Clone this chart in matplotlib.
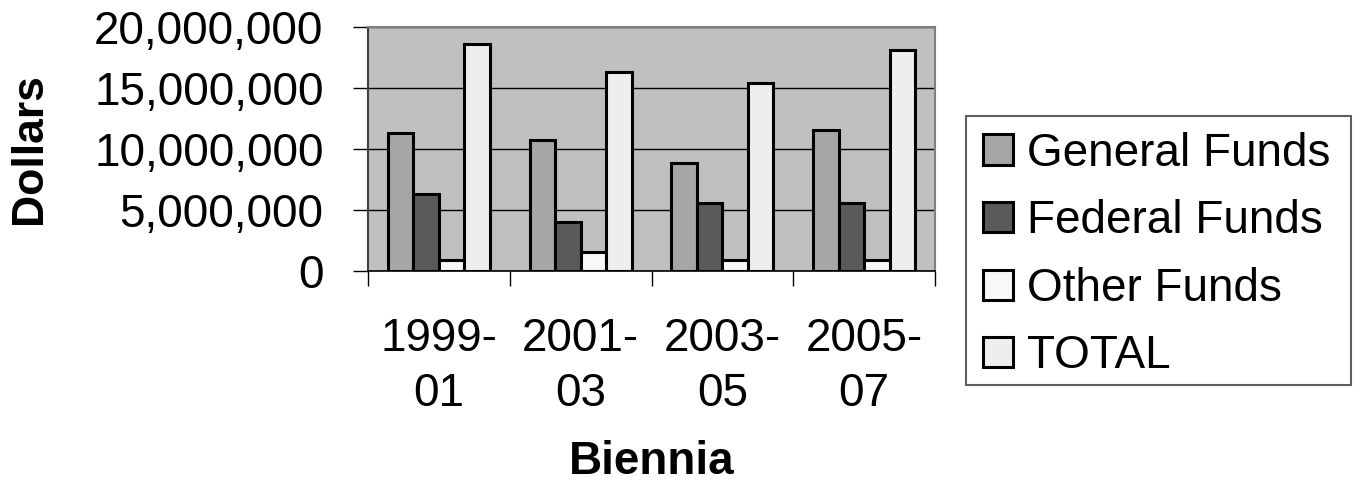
import matplotlib
matplotlib.use("Agg")
import matplotlib.pyplot as plt
import numpy as np
from matplotlib.ticker import FuncFormatter, FixedLocator
from matplotlib.patches import Rectangle

plt.rcParams['font.family'] = ['Liberation Sans', 'DejaVu Sans']

categories = ["1999-\n01", "2001-\n03", "2003-\n05", "2005-\n07"]
series_names = ["General Funds", "Federal Funds", "Other Funds", "TOTAL"]
general = [11300000, 10700000, 8850000, 11550000]
federal = [6300000, 4050000, 5600000, 5600000]
other = [900000, 1550000, 900000, 900000]
total = [18600000, 16350000, 15450000, 18150000]
y_ticks = [0, 5000000, 10000000, 15000000, 20000000]

colors = ["#a6a6a6", "#5a5a5a", "#f8f8f8", "#eeeeee"]

W, H = 1354, 487
FS = 33
fig = plt.figure(figsize=(W / 100, H / 100), dpi=100)
ax = fig.add_axes([368 / W, (H - 271) / H, (935 - 368) / W, (271 - 27) / H])
ax.set_facecolor("#c0c0c0")

x = np.arange(len(categories))
bw = 0.18
data = [general, federal, other, total]
for i, (vals, name, c) in enumerate(zip(data, series_names, colors)):
    ax.bar(x + (i - 1.5) * bw, vals, width=bw, color=c, edgecolor="black",
           linewidth=2.2, label=name, zorder=3)

ax.set_xlim(-0.5, len(categories) - 0.5)
ax.set_ylim(0, 20000000)
ax.yaxis.set_major_locator(FixedLocator(y_ticks))
ax.yaxis.set_major_formatter(FuncFormatter(lambda v, p: f"{int(v):,}"))
ax.grid(axis="y", color="black", linewidth=1.0, zorder=1)

ax.set_xticks(x)
ax.set_xticklabels(categories, linespacing=1.33)
ax.set_xticks(np.arange(-0.5, len(categories), 1.0), minor=True)
ax.tick_params(axis="x", which="major", length=0, pad=33, labelsize=FS)
ax.tick_params(axis="x", which="minor", length=11, width=1, color="black")
ax.tick_params(axis="y", length=11, width=1, color="black", labelsize=FS, pad=21)

for s in ["top", "right"]:
    ax.spines[s].set_color("#808080")
    ax.spines[s].set_linewidth(1.5)
ax.spines["left"].set_color("#404040")
ax.spines["left"].set_linewidth(1.5)
ax.spines["bottom"].set_color("black")
ax.spines["bottom"].set_linewidth(1.2)

fig.text(30 / W, 1 - 149 / H, "Dollars", rotation=90, fontsize=32,
         fontweight="bold", ha="center", va="center")
fig.text(652 / W, 1 - 462 / H, "Biennia", fontsize=FS, fontweight="bold",
         ha="center", va="center")

# legend frame
fig.patches.append(Rectangle((966 / W, 1 - 385 / H), (1351 - 966) / W, (385 - 116) / H,
                             transform=fig.transFigure, facecolor="white",
                             edgecolor="#606060", linewidth=1.5, zorder=0))

leg = fig.legend(loc="center left", bbox_to_anchor=(983 / W, 1 - 255 / H),
                 fontsize=FS, frameon=False,
                 handlelength=0.655, handleheight=0.633, handletextpad=0.305,
                 labelspacing=0.515, borderpad=0, borderaxespad=0)
for p in leg.get_patches():
    p.set_linewidth(2.2)

fig.savefig("out.png", dpi=100)
